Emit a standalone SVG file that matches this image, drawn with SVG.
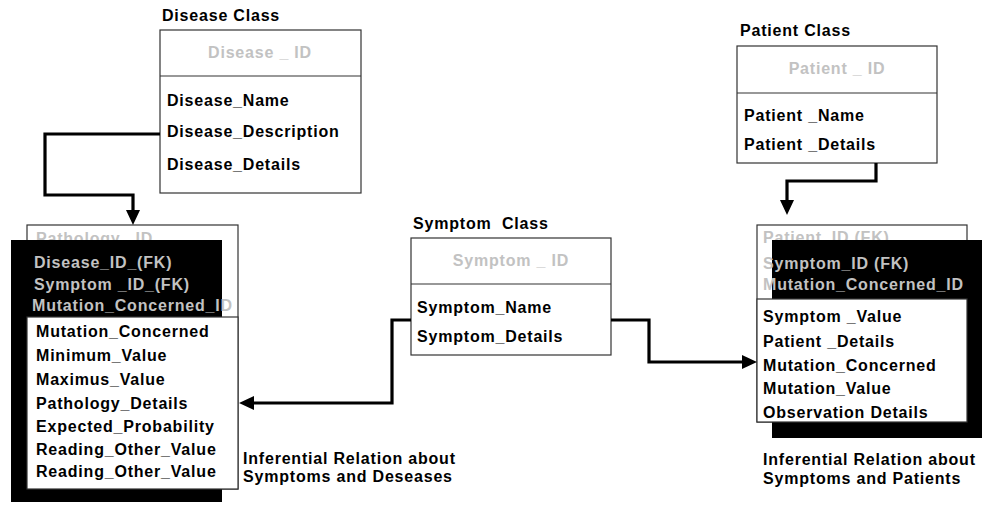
<svg xmlns="http://www.w3.org/2000/svg" width="982" height="505" viewBox="0 0 982 505">
<style>
text{font-family:"Liberation Sans",Arial,sans-serif;font-weight:bold;font-size:16px;letter-spacing:0.8px;white-space:pre}
.t{fill:#000}
.g{fill:#c2c2c2}
.c{text-anchor:middle}
.box{fill:#fff;stroke:#333;stroke-width:1.2}
.blk{fill:#000}
.conn{fill:none;stroke:#000;stroke-width:3.2;stroke-linejoin:miter}
</style>
<defs>
<marker id="ah" viewBox="0 0 15 14" refX="0" refY="7" markerWidth="15" markerHeight="14" markerUnits="userSpaceOnUse" orient="auto">
<path d="M0,0 L15,7 L0,14 z" fill="#000"/>
</marker>
</defs>
<rect width="982" height="505" fill="#fff"/>

<g id="disease-class">
<text class="t" x="162" y="21">Disease Class</text>
<rect class="box" x="160" y="30" width="201" height="163"/>
<line x1="160" y1="76" x2="361" y2="76" stroke="#333" stroke-width="1.2"/>
<text class="g c" x="260" y="58">Disease _ ID</text>
<text class="t" x="167" y="106">Disease_Name</text>
<text class="t" x="167" y="137">Disease_Description</text>
<text class="t" x="167" y="170">Disease_Details</text>
</g>

<g id="patient-class">
<text class="t" x="740" y="36">Patient Class</text>
<rect class="box" x="737" y="46" width="200" height="117"/>
<line x1="737" y1="93" x2="937" y2="93" stroke="#333" stroke-width="1.2"/>
<text class="g c" x="837" y="74">Patient _ ID</text>
<text class="t" x="744" y="121">Patient _Name</text>
<text class="t" x="744" y="150">Patient _Details</text>
</g>

<g id="symptom-class">
<text class="t" x="413" y="229">Symptom  Class</text>
<rect class="box" x="411" y="238" width="200" height="117"/>
<line x1="411" y1="284" x2="611" y2="284" stroke="#333" stroke-width="1.2"/>
<text class="g c" x="511" y="266">Symptom _ ID</text>
<text class="t" x="417" y="313">Symptom_Name</text>
<text class="t" x="417" y="342">Symptom_Details</text>
</g>

<g id="pathology-relation">
<rect class="box" x="27" y="225" width="211" height="264"/>
<text class="g" x="36" y="244">Pathology_ ID</text>
<rect class="blk" x="11" y="240" width="211" height="262"/>
<text class="g" x="34" y="268">Disease_ID_(FK)</text>
<text class="g" x="34" y="290">Symptom _ID_(FK)</text>
<text class="g" x="32" y="311">Mutation_Concerned_ID</text>
<rect class="box" x="27" y="317" width="211" height="172"/>
<text class="t" x="36" y="337">Mutation_Concerned</text>
<text class="t" x="36" y="361">Minimum_Value</text>
<text class="t" x="36" y="385">Maximus_Value</text>
<text class="t" x="36" y="409">Pathology_Details</text>
<text class="t" x="36" y="432">Expected_Probability</text>
<text class="t" x="36" y="455">Reading_Other_Value</text>
<text class="t" x="36" y="477">Reading_Other_Value</text>
<text class="t" x="243" y="464">Inferential Relation about</text>
<text class="t" x="243" y="482">Symptoms and Deseases</text>
</g>

<g id="patient-relation">
<rect class="box" x="757" y="225" width="210" height="197"/>
<text class="g" x="763" y="243">Patient_ID (FK)</text>
<rect class="blk" x="772" y="240" width="210" height="198"/>
<text class="g" x="763" y="269">Symptom_ID (FK)</text>
<text class="g" x="763" y="290">Mutation_Concerned_ID</text>
<rect class="box" x="757" y="299" width="210" height="123"/>
<text class="t" x="763" y="322">Symptom _Value</text>
<text class="t" x="763" y="347">Patient _Details</text>
<text class="t" x="763" y="371">Mutation_Concerned</text>
<text class="t" x="763" y="394">Mutation_Value</text>
<text class="t" x="763" y="418">Observation Details</text>
<text class="t" x="763" y="465">Inferential Relation about</text>
<text class="t" x="763" y="484">Symptoms and Patients</text>
</g>

<g id="connectors">
<path class="conn" d="M160,134 H45 V195 H133 V210" marker-end="url(#ah)"/>
<path class="conn" d="M876,163 V181 H787 V200" marker-end="url(#ah)"/>
<path class="conn" d="M411,320 H392 V403 H254" marker-end="url(#ah)"/>
<path class="conn" d="M611,320 H649 V362 H742" marker-end="url(#ah)"/>
</g>
</svg>
